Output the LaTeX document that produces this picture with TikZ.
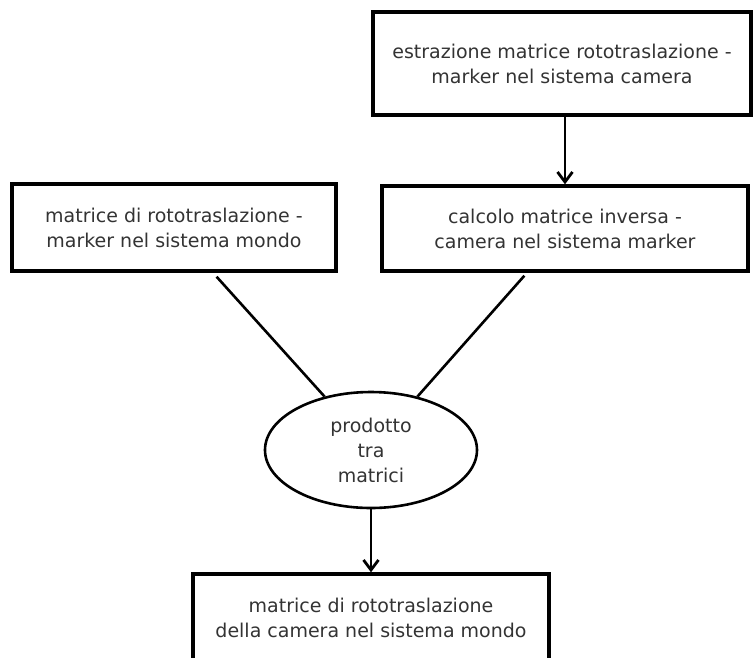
\documentclass[tikz,border=0pt]{standalone}
\usepackage{fontspec}
\setmainfont{DejaVu Sans}
\usetikzlibrary{shapes.geometric,arrows.meta,calc}
\definecolor{txt}{HTML}{333333}
\begin{document}
\begin{tikzpicture}[x=1pt,y=-1pt,
  box/.style={draw=black, line width=3.4pt, rectangle, align=center, text=txt,
    font=\fontsize{19}{25}\selectfont, inner sep=0pt},
  oval/.style={draw=black, ellipse, line width=2.6pt, align=center, text=txt,
    font=\fontsize{19}{25}\selectfont, inner sep=0pt,
    minimum width=212pt, minimum height=116pt},
  link/.style={line width=2.6pt},
  flow/.style={line width=2.8pt, -{Straight Barb[length=10pt,width=15pt,line width=2.8pt]}}]
\useasboundingbox (0,0) rectangle (755,657);

\node[box, minimum width=378pt, minimum height=103pt] (estr) at (562,63.5)
  {estrazione matrice rototraslazione -\\marker nel sistema camera};
\node[box, minimum width=366pt, minimum height=85pt] (inv) at (565,228.5)
  {calcolo matrice inversa -\\camera nel sistema marker};
\node[box, minimum width=324pt, minimum height=87pt] (mondo) at (174,227.5)
  {matrice di rototraslazione -\\marker nel sistema mondo};
\node[oval] (prod) at (371,450) {prodotto\\tra\\matrici};
\node[box, minimum width=356pt, minimum height=88pt] (res) at (371,618)
  {matrice di rototraslazione\\della camera nel sistema mondo};

\coordinate (mondoOut) at ($(mondo.south west)!0.63!(mondo.south east)+(0,4)$);
\coordinate (invOut) at ($(inv.south west)!0.39!(inv.south east)+(0,3)$);

\draw[flow] (estr.south -| inv.north) -- (inv.north);
\draw[link] (mondoOut) -- (prod.131);
\draw[link] (invOut) -- (prod.49);
\draw[flow] (prod.south) -- (res.north);
\end{tikzpicture}
\end{document}
